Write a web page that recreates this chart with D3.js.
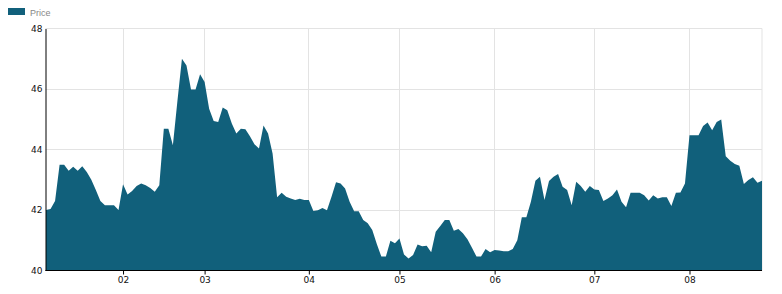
<!DOCTYPE html>
<html>
<head>
<meta charset="utf-8">
<script src="https://cdn.jsdelivr.net/npm/d3@7/dist/d3.min.js"></script>
<style>
  html, body { margin: 0; padding: 0; background: #fff; }
  svg { display: block; }
  .axis text { font-family: "DejaVu Sans", Verdana, sans-serif; font-size: 9px; fill: #111; }
  .axis path, .axis line { stroke: #000; }
</style>
</head>
<body>
<svg id="chart" width="782" height="294"></svg>
<script>
// Daily closing price (trading-day index order)
const seriesName = "Price";
const priceValues = [
  42.00, 42.03, 42.30, 43.50, 43.50, 43.30, 43.43, 43.30, 43.45, 43.26,
  43.00, 42.66, 42.30, 42.16, 42.16, 42.16, 42.00, 42.85, 42.51, 42.63,
  42.79, 42.88, 42.82, 42.73, 42.60, 42.82, 44.69, 44.69, 44.14, 45.60,
  47.00, 46.78, 45.98, 45.98, 46.49, 46.23, 45.35, 44.94, 44.91, 45.39,
  45.30, 44.86, 44.53, 44.69, 44.67, 44.44, 44.17, 44.03, 44.79, 44.53,
  43.87, 42.42, 42.57, 42.44, 42.38, 42.33, 42.37, 42.33, 42.33, 41.97,
  41.99, 42.07, 41.99, 42.44, 42.92, 42.88, 42.71, 42.27, 41.96, 41.96,
  41.67, 41.56, 41.34, 40.88, 40.46, 40.46, 40.98, 40.90, 41.06, 40.53,
  40.40, 40.51, 40.86, 40.80, 40.82, 40.60, 41.28, 41.47, 41.67, 41.67,
  41.31, 41.37, 41.23, 41.03, 40.75, 40.46, 40.46, 40.71, 40.60, 40.68,
  40.66, 40.64, 40.64, 40.71, 41.00, 41.76, 41.76, 42.27, 42.97, 43.10,
  42.33, 42.96, 43.10, 43.19, 42.77, 42.66, 42.16, 42.93, 42.79, 42.60,
  42.79, 42.68, 42.66, 42.30, 42.38, 42.49, 42.68, 42.27, 42.09, 42.57,
  42.57, 42.57, 42.49, 42.31, 42.49, 42.38, 42.42, 42.42, 42.13, 42.57,
  42.58, 42.88, 44.47, 44.47, 44.47, 44.78, 44.89, 44.64, 44.91, 44.99,
  43.78, 43.63, 43.52, 43.46, 42.86, 42.99, 43.08, 42.90, 42.97
];
// Month ticks: first trading day index of each month, and labels
const monthTickIndex = [17, 35, 58, 78, 99, 121, 142];
const monthTickLabels = ["02", "03", "04", "05", "06", "07", "08"];
const yTickValues = [40, 42, 44, 46, 48];

const fillColor = "#11607b";
const W = 782, H = 294;
const margin = { top: 28, left: 45, right: 20, bottom: 24 };
const innerW = 717, innerH = 242;

const svg = d3.select("#chart");
const g = svg.append("g").attr("transform", `translate(${margin.left + 0.5},${margin.top + 0.5})`);

const x = d3.scaleLinear().domain([0, priceValues.length - 1]).range([0.5, innerW - 0.5]);
const y = d3.scaleLinear().domain([40, 48]).range([innerH, 0]);

// grid
g.append("g").selectAll("line.h").data(yTickValues).join("line")
  .attr("x1", 0).attr("x2", innerW - 0.5)
  .attr("y1", d => Math.round(y(d))).attr("y2", d => Math.round(y(d)))
  .attr("stroke", "#e3e3e3").attr("stroke-width", 1);
g.append("g").selectAll("line.v").data(monthTickIndex).join("line")
  .attr("x1", d => Math.round(x(d))).attr("x2", d => Math.round(x(d)))
  .attr("y1", 0).attr("y2", innerH)
  .attr("stroke", "#e3e3e3").attr("stroke-width", 1);
g.append("line")
  .attr("x1", innerW - 0.5).attr("x2", innerW - 0.5).attr("y1", 0).attr("y2", innerH)
  .attr("stroke", "#e3e3e3");

// area
const area = d3.area()
  .x((d, i) => x(i))
  .y0(y(40))
  .y1(d => y(d));
g.append("path").datum(priceValues)
  .attr("d", area)
  .attr("fill", fillColor);

// axes
const xAxis = d3.axisBottom(x)
  .tickValues(monthTickIndex.map(Math.round))
  .tickFormat((d, i) => monthTickLabels[i])
  .tickSize(4).tickSizeOuter(0).tickPadding(2);
g.append("g").attr("class", "axis").attr("transform", `translate(0,${innerH})`)
  .call(xAxis)
  .call(s => s.select(".domain").attr("d", `M0,0.5H${innerW - 0.5}`).attr("transform", "translate(0,-0.5)"));

const yAxis = d3.axisLeft(y)
  .tickValues(yTickValues)
  .tickFormat(d3.format("d"))
  .tickSize(0).tickPadding(3);
g.append("g").attr("class", "axis").call(yAxis);

// legend
const leg = svg.append("g").attr("transform", "translate(8,8)");
leg.append("rect").attr("width", 17).attr("height", 7).attr("fill", fillColor);
leg.append("text").attr("x", 22).attr("y", 7.5)
  .attr("font-family", "'Liberation Sans', Arial, sans-serif")
  .attr("font-size", 9).attr("fill", "#888").text(seriesName);
</script>
</body>
</html>
